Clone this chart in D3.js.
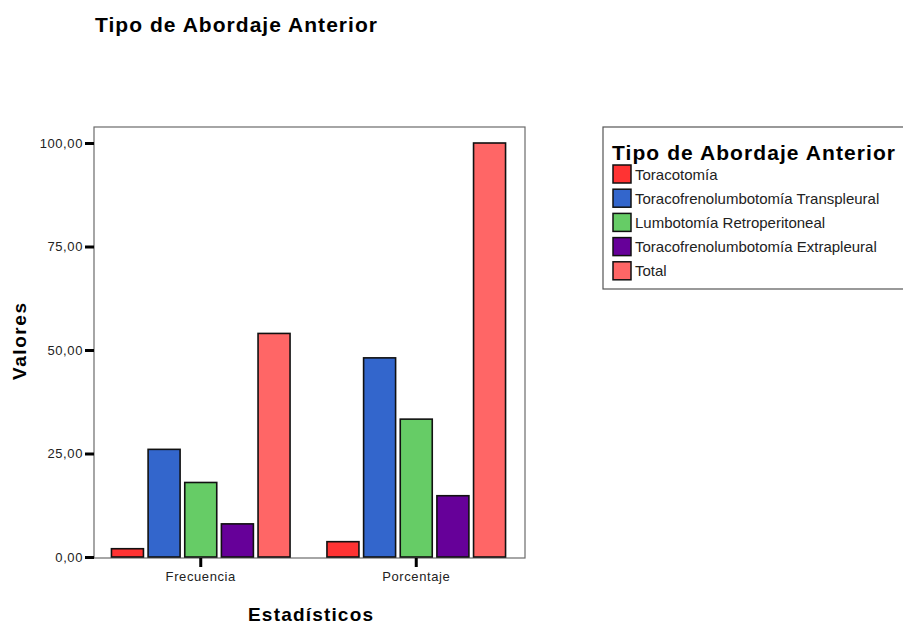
<!DOCTYPE html>
<html>
<head>
<meta charset="utf-8">
<script src="https://cdn.jsdelivr.net/npm/d3@7"></script>
<style>
  html, body { margin: 0; padding: 0; background: #ffffff; }
  svg { display: block; font-family: Arial, "Liberation Sans", sans-serif; }
</style>
</head>
<body>
<svg id="chart" width="903" height="626"></svg>
<script>
// Grouped bars: frequency and percentage of each anterior approach type
const categories = ["Frecuencia", "Porcentaje"];
const seriesNames = [
  "Toracotomía",
  "Toracofrenolumbotomía Transpleural",
  "Lumbotomía Retroperitoneal",
  "Toracofrenolumbotomía Extrapleural",
  "Total"
];
const frecuencia = [2, 26, 18, 8, 54];
const porcentaje = [3.7, 48.1, 33.3, 14.8, 100];
const seriesColors = ["#ff3333", "#3366cc", "#66cc66", "#660099", "#ff6666"];
const yTickValues = [0, 25, 50, 75, 100];
const chartTitle = "Tipo de Abordaje Anterior";
const yTitle = "Valores";
const xTitle = "Estadísticos";

const valuesByCategory = { "Frecuencia": frecuencia, "Porcentaje": porcentaje };
const rows = [];
categories.forEach(c => {
  valuesByCategory[c].forEach((v, i) => rows.push({ cat: c, series: seriesNames[i], value: v, color: seriesColors[i] }));
});

const svg = d3.select("#chart");
const frame = { left: 94, right: 525, top: 127, bottom: 558 };

const y = d3.scaleLinear().domain([0, 100]).range([557, 143]);
const x0 = d3.scaleBand().domain(categories).range([93, 524]).padding(0);
const x1 = d3.scaleBand().domain(seriesNames).range([-89.3, 89.3]).paddingInner(0.127).paddingOuter(0);

// plot frame
svg.append("rect")
  .attr("x", frame.left).attr("y", frame.top)
  .attr("width", frame.right - frame.left).attr("height", frame.bottom - frame.top)
  .attr("fill", "#ffffff").attr("stroke", "#6b6b6b").attr("stroke-width", 1.2);

// bars
svg.append("g").selectAll("rect").data(rows).join("rect")
  .attr("x", d => x0(d.cat) + x0.bandwidth() / 2 + x1(d.series))
  .attr("width", x1.bandwidth())
  .attr("y", d => y(d.value))
  .attr("height", d => y(0) - y(d.value))
  .attr("fill", d => d.color)
  .attr("stroke", "#111111").attr("stroke-width", 1.6);

// y axis
const fmt = v => d3.format(".2f")(v).replace(".", ",");
const yAxis = svg.append("g")
  .attr("transform", `translate(${frame.left},0)`)
  .call(d3.axisLeft(y).tickValues(yTickValues).tickFormat(fmt).tickSize(9).tickPadding(2));
yAxis.select(".domain").remove();
yAxis.selectAll(".tick line").attr("stroke", "#000").attr("stroke-width", 3);
yAxis.selectAll(".tick text")
  .attr("font-size", 13).attr("fill", "#222").attr("letter-spacing", 0.6)
  .attr("font-family", "Arial, 'Liberation Sans', sans-serif");

// x axis
const xAxis = svg.append("g")
  .attr("transform", `translate(0,${frame.bottom})`)
  .call(d3.axisBottom(x0).tickSize(9).tickPadding(5));
xAxis.select(".domain").remove();
xAxis.selectAll(".tick line").attr("stroke", "#000").attr("stroke-width", 3);
xAxis.selectAll(".tick text")
  .attr("font-size", 13).attr("fill", "#222").attr("letter-spacing", 0.6)
  .attr("font-family", "Arial, 'Liberation Sans', sans-serif");

// titles
svg.append("text")
  .attr("x", 95).attr("y", 32)
  .attr("font-size", 21).attr("font-weight", "bold")
  .attr("textLength", 282).attr("lengthAdjust", "spacing")
  .text(chartTitle);

svg.append("text")
  .attr("transform", "translate(26,341.5) rotate(-90)")
  .attr("text-anchor", "middle")
  .attr("font-size", 19).attr("font-weight", "bold")
  .attr("textLength", 77).attr("lengthAdjust", "spacing")
  .text(yTitle);

svg.append("text")
  .attr("x", 310.5).attr("y", 620.5)
  .attr("text-anchor", "middle")
  .attr("font-size", 19).attr("font-weight", "bold")
  .attr("textLength", 125).attr("lengthAdjust", "spacing")
  .text(xTitle);

// legend
const legend = svg.append("g");
legend.append("rect")
  .attr("x", 603).attr("y", 127).attr("width", 330).attr("height", 162)
  .attr("fill", "#ffffff").attr("stroke", "#555555").attr("stroke-width", 1.2);
legend.append("text")
  .attr("x", 612).attr("y", 160)
  .attr("font-size", 21).attr("font-weight", "bold")
  .attr("textLength", 283).attr("lengthAdjust", "spacing")
  .text(chartTitle);
const items = legend.selectAll("g.item").data(seriesNames).join("g")
  .attr("class", "item")
  .attr("transform", (d, i) => `translate(613,${165 + i * 24.2})`);
items.append("rect")
  .attr("width", 18).attr("height", 18)
  .attr("fill", (d, i) => seriesColors[i])
  .attr("stroke", "#111").attr("stroke-width", 1.5);
items.append("text")
  .attr("x", 22).attr("y", 14.5)
  .attr("font-size", 15).attr("fill", "#222")
  .text(d => d);
</script>
</body>
</html>
